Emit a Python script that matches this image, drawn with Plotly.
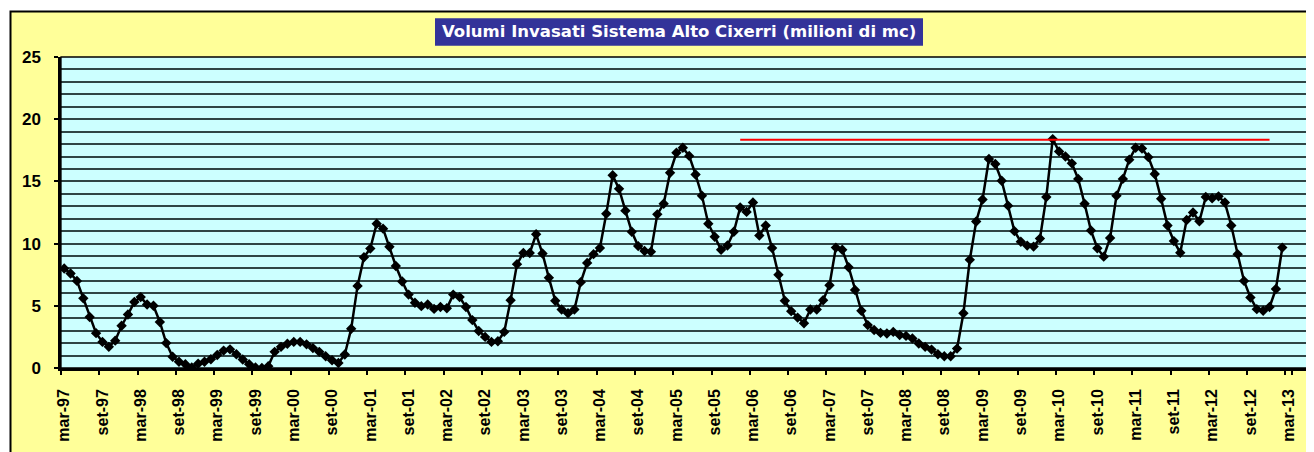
import plotly.graph_objects as go

# ---- data ----
month_names = ["gen", "feb", "mar", "apr", "mag", "giu", "lug", "ago", "set", "ott", "nov", "dic"]
start_year = 1997
start_month = 2  # index of "mar"
n_categories = 196  # mar-97 .. giu-13 (axis span)

volumi = [
    8.0, 7.6, 7.0, 5.6, 4.1, 2.8, 2.1, 1.7, 2.2, 3.4, 4.3, 5.3,          # mar-97 .. feb-98
    5.7, 5.1, 5.0, 3.7, 2.0, 0.9, 0.5, 0.3, 0.05, 0.35, 0.5, 0.7,         # mar-98 .. feb-99
    1.05, 1.4, 1.5, 1.1, 0.68, 0.3, 0.05, 0.0, 0.15, 1.3, 1.7, 1.95,      # mar-99 .. feb-00
    2.1, 2.1, 1.9, 1.6, 1.3, 0.95, 0.62, 0.4, 1.08, 3.15, 6.6, 8.9,       # mar-00 .. feb-01
    9.6, 11.6, 11.2, 9.75, 8.2, 6.95, 5.9, 5.25, 4.97, 5.1, 4.75, 4.9,    # mar-01 .. feb-02
    4.8, 5.9, 5.7, 4.9, 3.85, 2.98, 2.5, 2.1, 2.15, 2.9, 5.45, 8.35,      # mar-02 .. feb-03
    9.25, 9.25, 10.75, 9.2, 7.25, 5.4, 4.7, 4.4, 4.7, 6.9, 8.45, 9.15,    # mar-03 .. feb-04
    9.65, 12.4, 15.5, 14.4, 12.65, 10.95, 9.8, 9.4, 9.35, 12.35, 13.2, 15.7,  # mar-04 .. feb-05
    17.3, 17.7, 17.05, 15.55, 13.85, 11.6, 10.55, 9.5, 9.85, 10.95, 12.9, 12.55,  # mar-05 .. feb-06
    13.3, 10.65, 11.45, 9.65, 7.5, 5.4, 4.57, 4.05, 3.6, 4.7, 4.7, 5.45,  # mar-06 .. feb-07
    6.65, 9.68, 9.5, 8.1, 6.27, 4.6, 3.45, 3.05, 2.82, 2.77, 2.9, 2.65,   # mar-07 .. feb-08
    2.58, 2.37, 1.97, 1.7, 1.48, 1.1, 0.94, 0.94, 1.56, 4.4, 8.7, 11.78,  # mar-08 .. feb-09
    13.55, 16.8, 16.4, 15.05, 13.05, 11.0, 10.15, 9.84, 9.76, 10.4, 13.75, 18.4,  # mar-09 .. feb-10
    17.4, 17.0, 16.45, 15.2, 13.2, 11.05, 9.63, 8.95, 10.45, 13.85, 15.2, 16.75,  # mar-10 .. feb-11
    17.7, 17.65, 16.95, 15.6, 13.6, 11.45, 10.2, 9.27, 11.9, 12.5, 11.8, 13.75,   # mar-11 .. feb-12
    13.65, 13.8, 13.3, 11.45, 9.15, 7.0, 5.67, 4.73, 4.6, 4.9, 6.35, 9.68,        # mar-12 .. feb-13
]

soglia_x = ["gen-06", "dic-12"]
soglia_y = [18.35, 18.35]

title_text = "Volumi Invasati Sistema Alto Cixerri (milioni di mc)"

# ---- category labels ----
mesi = []
for k in range(n_categories):
    m = (start_month + k) % 12
    y = start_year + (start_month + k) // 12
    mesi.append(f"{month_names[m]}-{y % 100:02d}")
tick_labels = mesi[0:194:6]

# ---- geometry (page pixels; the page body has an 8px margin) ----
OFF = 8
W, H = 1314 - OFF, 452 - OFF
ML, MR, MT, MB = 61.3 - OFF, 3.3, 57 - OFF, 84.3
ML, MT = round(ML), round(MT)
MR, MB = round(MR), round(MB)
PW, PH = W - ML - MR, H - MT - MB


def px(x):  # page x -> paper
    return (x - OFF - ML) / PW


def py(y):  # page y -> paper
    return (H - MB - (y - OFF)) / PH


FONT = "Liberation Sans, Arial, sans-serif"
TFONT = "DejaVu Sans, Verdana, sans-serif"

fig = go.Figure()
fig.add_trace(go.Scatter(
    x=mesi[:len(volumi)], y=volumi, mode="lines+markers",
    line=dict(color="black", width=2.5),
    marker=dict(symbol="diamond", size=8, color="black"),
    showlegend=False, hoverinfo="x+y",
))
fig.add_trace(go.Scatter(
    x=soglia_x, y=soglia_y, mode="lines",
    line=dict(color="#FF0000", width=2),
    showlegend=False,
))

shapes = [
    # outer yellow chart area with border
    dict(type="rect", xref="paper", yref="paper", layer="below",
         x0=px(10.5), x1=px(1312.5), y0=py(470), y1=py(11.5),
         fillcolor="#FFFF99", line=dict(color="black", width=2)),
    # plot area background
    dict(type="rect", xref="paper", yref="paper", layer="below",
         x0=0, x1=1, y0=0, y1=1, fillcolor="#CCFFFF", line=dict(width=0)),
    # plot area border
    dict(type="rect", xref="paper", yref="paper", layer="above",
         x0=0, x1=1, y0=0, y1=1, line=dict(color="black", width=1.3)),
    # title box
    dict(type="rect", xref="paper", yref="paper", layer="above",
         x0=px(435), x1=px(923), y0=py(45.7), y1=py(18.3),
         fillcolor="#333399", line=dict(width=0)),
]

fig.update_layout(
    width=W, height=H,
    margin=dict(l=ML, r=MR, t=MT, b=MB, pad=0, autoexpand=False),
    paper_bgcolor="white",
    plot_bgcolor="#CCFFFF",
    shapes=shapes,
    annotations=[dict(
        text=title_text, xref="paper", yref="paper",
        x=px(679), y=py(32), xanchor="center", yanchor="middle",
        showarrow=False,
        font=dict(family=TFONT, size=16.5, color="white", weight="bold"),
    )],
    xaxis=dict(
        type="category", categoryorder="array", categoryarray=mesi,
        range=[-0.5, n_categories - 0.5], automargin=False,
        tickmode="array", tickvals=tick_labels, ticktext=tick_labels,
        tickangle=-90, tickson="boundaries",
        ticks="outside", ticklen=4, tickwidth=1.5, tickcolor="black",
        tickfont=dict(family=FONT, size=16, color="black", weight="bold"),
        ticklabelstandoff=12,
        showgrid=False, zeroline=False,
        showline=True, linecolor="black", linewidth=2.5,
        fixedrange=True,
    ),
    yaxis=dict(
        range=[0, 25], tickmode="linear", tick0=0, dtick=5, automargin=False,
        ticks="outside", ticklen=4, tickwidth=1.5, tickcolor="black",
        tickfont=dict(family=FONT, size=17, color="black", weight="bold"),
        ticklabelstandoff=10,
        showgrid=True, gridcolor="#2E4545", gridwidth=1.5,
        minor=dict(dtick=1, tick0=0, showgrid=True, gridcolor="#2E4545", gridwidth=1.5),
        zeroline=False,
        showline=True, linecolor="black", linewidth=2.5,
        fixedrange=True,
    ),
)

fig.write_html("out.html")
